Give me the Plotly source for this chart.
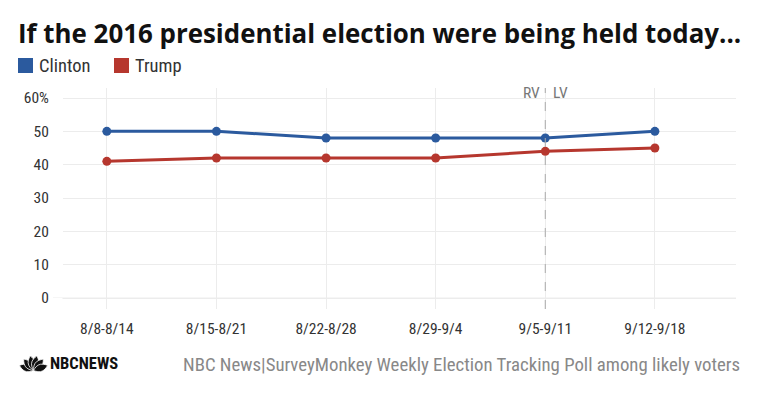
import math
import plotly.graph_objects as go

weeks = ["8/8-8/14", "8/15-8/21", "8/22-8/28", "8/29-9/4", "9/5-9/11", "9/12-9/18"]
clinton = [50, 50, 48, 48, 48, 50]
trump = [41, 42, 42, 42, 44, 45]
y_ticks = [0, 10, 20, 30, 40, 50, 60]
y_tick_labels = ["0", "10", "20", "30", "40", "50", "60%"]

BLUE = "#2b5a9e"
RED = "#b6372e"
NARROW = "Liberation Sans Narrow, Roboto Condensed, Roboto, sans-serif"
TICKFONT = dict(family=NARROW, size=15.5, color="#333333")

W, H = 760, 399
L, R, T, B = 63, 24, 88, 90

def px_x(px):
    return (px - L) / (W - L - R)

def px_y(py):
    return (H - B - py) / (H - B - T)

fig = go.Figure()
fig.add_trace(go.Scatter(x=weeks, y=clinton, name="Clinton", mode="lines+markers",
                         line=dict(color=BLUE, width=3), marker=dict(size=9, color=BLUE),
                         showlegend=False))
fig.add_trace(go.Scatter(x=weeks, y=trump, name="Trump", mode="lines+markers",
                         line=dict(color=RED, width=3), marker=dict(size=9, color=RED),
                         showlegend=False))

fig.update_layout(
    width=W, height=H,
    margin=dict(l=L, r=R, t=T, b=B),
    paper_bgcolor="white", plot_bgcolor="white",
    xaxis=dict(type="category", range=[-0.4, 5.74], showgrid=True, gridcolor="#ececec",
               gridwidth=1, tickfont=TICKFONT, ticks="", showline=False, zeroline=False,
               ticklabelstandoff=8),
    yaxis=dict(range=[-3.3, 63], tickvals=y_ticks, ticktext=y_tick_labels, showgrid=True,
               gridcolor="#ececec", gridwidth=1, tickfont=TICKFONT, zeroline=False,
               showline=False, ticks="outside", ticklen=10, tickcolor="white"),
)

# baseline extends slightly left of plot area
fig.add_shape(type="line", xref="paper", yref="y", x0=px_x(53), x1=1, y0=0, y1=0,
              line=dict(color="#ececec", width=1), layer="below")

# vertical dashed RV/LV separator
fig.add_shape(type="line", xref="x", yref="paper", x0=4, x1=4, y0=0, y1=1,
              line=dict(color="#aaaaaa", width=1, dash="dash"))
fig.add_annotation(x=4, y=1, xref="x", yref="paper", text="RV", showarrow=False,
                   xanchor="right", yanchor="top", xshift=-3, yshift=6,
                   font=dict(family=NARROW, size=15.5, color="#777777"))
fig.add_annotation(x=4, y=1, xref="x", yref="paper", text="LV", showarrow=False,
                   xanchor="left", yanchor="top", xshift=6, yshift=6,
                   font=dict(family=NARROW, size=15.5, color="#777777"))

# title
fig.add_annotation(x=px_x(16), y=px_y(33), xref="paper", yref="paper",
                   text="<b>If the 2016 presidential election were being held today...</b>",
                   showarrow=False, xanchor="left", yanchor="middle",
                   font=dict(family="Open Sans, Lato, sans-serif", size=25.9, color="#111111"))

# legend (custom)
fig.add_shape(type="rect", xref="paper", yref="paper", x0=px_x(18), x1=px_x(33),
              y0=px_y(73), y1=px_y(58), fillcolor=BLUE, line=dict(width=0))
fig.add_annotation(x=px_x(37), y=px_y(66), xref="paper", yref="paper", text="Clinton",
                   showarrow=False, xanchor="left", yanchor="middle",
                   font=dict(family=NARROW, size=18.5, color="#333333"))
fig.add_shape(type="rect", xref="paper", yref="paper", x0=px_x(114), x1=px_x(129),
              y0=px_y(73), y1=px_y(58), fillcolor=RED, line=dict(width=0))
fig.add_annotation(x=px_x(133), y=px_y(66), xref="paper", yref="paper", text="Trump",
                   showarrow=False, xanchor="left", yanchor="middle",
                   font=dict(family=NARROW, size=18.5, color="#333333"))

# footer: peacock-like logo mark
cx, cy = 33.5, 370.5
for ang in [160, 131, 103, 77, 49, 20]:
    a = math.radians(ang)
    length, half_w = 15.0, 3.6
    pts = []
    for k in range(0, 361, 20):
        t = math.radians(k)
        u = (1 + math.cos(t)) / 2 * length
        v = math.sin(t) * half_w * math.sin(math.pi * u / length) ** 0.5
        xx = cx + u * math.cos(a) - v * math.sin(a)
        yy = cy - (u * math.sin(a) + v * math.cos(a))
        pts.append((px_x(xx), px_y(yy)))
    path = "M " + " L ".join(f"{p[0]:.5f},{p[1]:.5f}" for p in pts) + " Z"
    fig.add_shape(type="path", xref="paper", yref="paper", path=path,
                  fillcolor="#111111", line=dict(color="white", width=0.8))

fig.add_annotation(x=px_x(48), y=px_y(363), xref="paper", yref="paper",
                   text="<b>NBCNEWS</b>", showarrow=False, xanchor="left", yanchor="middle",
                   font=dict(family="Roboto Condensed, Liberation Sans Narrow, Roboto, sans-serif",
                             size=16.5, color="#111111"))
fig.add_annotation(x=px_x(742), y=px_y(365), xref="paper", yref="paper",
                   text="NBC News|SurveyMonkey Weekly Election Tracking Poll among likely voters",
                   showarrow=False, xanchor="right", yanchor="middle",
                   font=dict(family=NARROW, size=18.8, color="#888888"))

fig.write_html("out.html", config={"displayModeBar": False},
               post_script="document.body.style.margin='0';")
